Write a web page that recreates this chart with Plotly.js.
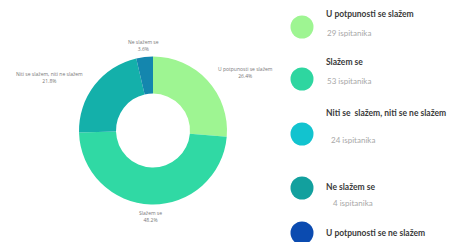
<!DOCTYPE html>
<html>
<head>
<meta charset="utf-8">
<script src="https://cdn.plot.ly/plotly-3.0.1.min.js"></script>
<style>html,body{margin:0;padding:0;background:#fff;}#chart{width:452px;height:242px;}</style>
</head>
<body>
<div id="chart"></div>
<script>
// Data
const categories = ["U potpunosti se slažem", "Slažem se", "Niti se  slažem, niti se ne slažem", "Ne slažem se", "U potpunosti se ne slažem"];
const pieLabels = ["U potpunosti se slažem", "Slažem se", "Niti se slažem, niti ne slažem", "Ne slažem se", "U potpunosti se ne slažem"];
const counts = [29, 53, 24, 4, 0];
const countLabels = ["29 ispitanika", "53 ispitanika", "24 ispitanika", "4 ispitanika", ""];

// Styles
const pieColors = ["#9ef592", "#30d9a4", "#14b0aa", "#1486ae", "#0d4fb0"];
const legendColors = ["#9ef592", "#2ed6a0", "#12c3cf", "#12a09e", "#0b4bb0"];

const W = 452, H = 242;
const CX = 153, CY = 130.5, R = 74, LABEL_R = 86;
const idx = counts.map((v, i) => i).filter(i => counts[i] > 0);

const trace = {
  type: 'pie',
  values: idx.map(i => counts[i]),
  labels: idx.map(i => categories[i]),
  textinfo: 'none',
  marker: {colors: idx.map(i => pieColors[i]), line: {width: 0}},
  hole: 0.5,
  sort: false,
  direction: 'clockwise',
  rotation: 0,
  showlegend: false,
  automargin: false,
  domain: {x: [(CX - R) / W, (CX + R) / W], y: [(H - CY - R) / H, (H - CY + R) / H]}
};

const shapes = [];
const annotations = [];

// slice labels placed from the data-derived mid-angles
const total = counts.reduce((a, b) => a + b, 0);
let cum = 0;
idx.forEach(i => {
  const frac = counts[i] / total;
  const mid = (cum + frac / 2) * 2 * Math.PI;
  cum += frac;
  const s = Math.sin(mid), c = Math.cos(mid);
  const px = CX + LABEL_R * s, py = CY - LABEL_R * c;
  annotations.push({xref: 'paper', yref: 'paper', x: px / W, y: (H - py) / H,
    xanchor: s > 0.3 ? 'left' : (s < -0.3 ? 'right' : 'center'), yanchor: 'middle',
    showarrow: false, align: 'center',
    text: pieLabels[i] + '<br>' + (frac * 100).toFixed(1) + '%',
    font: {family: 'Open Sans, sans-serif', size: 5, color: '#777'}});
});

// custom legend positions (pixels from top)
const circY = [27, 79, 134, 188, 233];
const titleY = [14, 62, 113, 187, 233];
const countY = [33, 81, 140, 203, null];
const countX = [325, 325, 329, 331, 0];

categories.forEach((c, i) => {
  const cy = circY[i];
  shapes.push({type: 'circle', xref: 'paper', yref: 'paper',
    x0: (302 - 11.5) / W, x1: (302 + 11.5) / W,
    y0: (H - cy - 11.5) / H, y1: (H - cy + 11.5) / H,
    fillcolor: legendColors[i], line: {width: 0}});
  annotations.push({xref: 'paper', yref: 'paper', x: 324 / W, y: (H - titleY[i]) / H,
    xanchor: 'left', yanchor: 'middle', showarrow: false, text: '<b>' + c + '</b>',
    font: {family: 'Lato, sans-serif', size: 8.5, color: '#3a3a3a'}});
  if (countLabels[i]) {
    annotations.push({xref: 'paper', yref: 'paper', x: countX[i] / W, y: (H - countY[i]) / H,
      xanchor: 'left', yanchor: 'middle', showarrow: false, text: countLabels[i],
      font: {family: 'Lato, sans-serif', size: 8, color: '#a8a8a8'}});
  }
});

const layout = {
  width: W, height: H,
  margin: {l: 0, r: 0, t: 0, b: 0},
  paper_bgcolor: '#fff', plot_bgcolor: '#fff',
  shapes: shapes,
  annotations: annotations,
  showlegend: false
};

Plotly.newPlot('chart', [trace], layout, {displayModeBar: false, staticPlot: true});
</script>
</body>
</html>
